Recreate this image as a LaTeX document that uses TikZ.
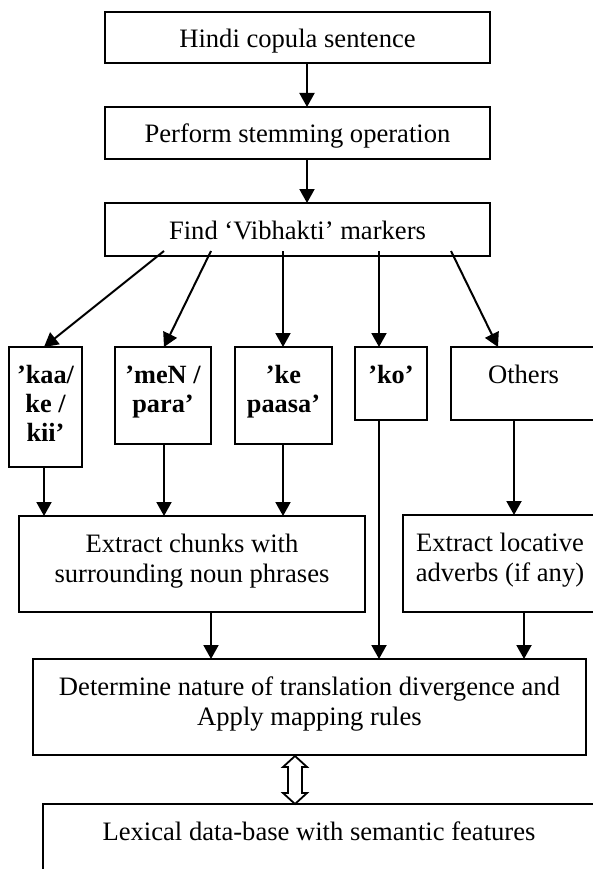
\documentclass[tikz,border=0pt]{standalone}
\usepackage{fontspec}
\setmainfont{Liberation Serif}
\usetikzlibrary{arrows.meta}
\newcommand\tbx[3]{\parbox[c][#2][t]{#1}{\centering\rule{0pt}{36pt}#3\par}}
\begin{document}
\begin{tikzpicture}[x=1pt,y=-1pt,
  box/.style={draw, line width=2pt, inner sep=0pt, outer sep=0pt, font=\fontsize{26.6}{30}\selectfont},
  bbox/.style={box, font=\fontsize{26.3}{29}\selectfont\bfseries},
  arr/.style={line width=2pt, -{Triangle[length=14pt,width=15pt]}},
  dbl/.style={line width=1.8pt, fill=white, line join=miter}]
\useasboundingbox (0,0) rectangle (593,869);
\clip (0,0) rectangle (593,869);
% top chain
\node[box] (b1) at (297.5,37.5) {\tbx{385pt}{51pt}{Hindi copula sentence}};
\node[box] (b2) at (297.5,133) {\tbx{385pt}{52pt}{Perform stemming operation}};
\node[box] (b3) at (297.5,229.5) {\tbx{385pt}{53pt}{Find ‘Vibhakti’ markers}};
% marker row
\node[bbox] (kaa) at (45.5,407) {\tbx{73pt}{120pt}{’kaa/\\ke /\\kii’}};
\node[bbox] (men) at (163,395.5) {\tbx{96pt}{97pt}{’meN /\\para’}};
\node[bbox] (kep) at (283.5,395.5) {\tbx{97pt}{97pt}{’ke\\paasa’}};
\node[bbox] (ko) at (391,383.5) {\tbx{72pt}{73pt}{’ko’}};
\node[box] (oth) at (523.5,383.5) {\tbx{145pt}{73pt}{Others}};
% extraction row
\node[box] (chunks) at (192,564) {\tbx{346pt}{96pt}{Extract chunks with\\surrounding noun phrases}};
\node[box] (loc) at (500,563.5) {\tbx{194pt}{97pt}{Extract locative\\adverbs (if any)}};
% bottom
\node[box] (det) at (309.5,707) {\tbx{553pt}{96pt}{Determine nature of translation divergence and\\Apply mapping rules}};
\node[box] (lex) at (319,849) {\tbx{552pt}{90pt}{Lexical data-base with semantic features}};
% connectors
\draw[arr] ([xshift=9.5pt]b1.south) -- ([xshift=9.5pt]b2.north);
\draw[arr] ([xshift=9.5pt]b2.south) -- ([xshift=9.5pt]b3.north);
\draw[arr] ([xshift=-133.5pt,yshift=5pt]b3.south) -- ([xshift=-1.5pt]kaa.north);
\draw[arr] ([xshift=-86.5pt,yshift=5pt]b3.south) -- ([xshift=1pt]men.north);
\draw[arr] ([xshift=-14.5pt,yshift=5pt]b3.south) -- ([xshift=-0.5pt]kep.north);
\draw[arr] ([xshift=81.5pt,yshift=5pt]b3.south) -- ([xshift=-12pt]ko.north);
\draw[arr] ([xshift=153.5pt,yshift=5pt]b3.south) -- ([xshift=-25.5pt]oth.north);
\draw[arr] ([xshift=-1.5pt]kaa.south) -- ([xshift=-148pt]chunks.north);
\draw[arr] ([xshift=1pt]men.south) -- ([xshift=-28pt]chunks.north);
\draw[arr] ([xshift=-0.5pt]kep.south) -- ([xshift=91pt]chunks.north);
\draw[arr] ([xshift=-12pt]ko.south) -- ([xshift=69.5pt]det.north);
\draw[arr] ([xshift=-9.5pt]oth.south) -- ([xshift=14pt]loc.north);
\draw[arr] ([xshift=19pt]chunks.south) -- ([xshift=-98.5pt]det.north);
\draw[arr] ([xshift=24pt]loc.south) -- ([xshift=214.5pt]det.north);
% hollow double arrow between det and lex
\draw[dbl] ([xshift=-14.5pt,yshift=-1pt]det.south) -- ++(12,11) -- ++(-5,0) -- ++(0,26) -- ++(5,0)
  -- ([xshift=-24pt]lex.north) -- ++(-12,-11) -- ++(5,0) -- ++(0,-26) -- ++(-5,0) -- cycle;
\end{tikzpicture}
\end{document}
